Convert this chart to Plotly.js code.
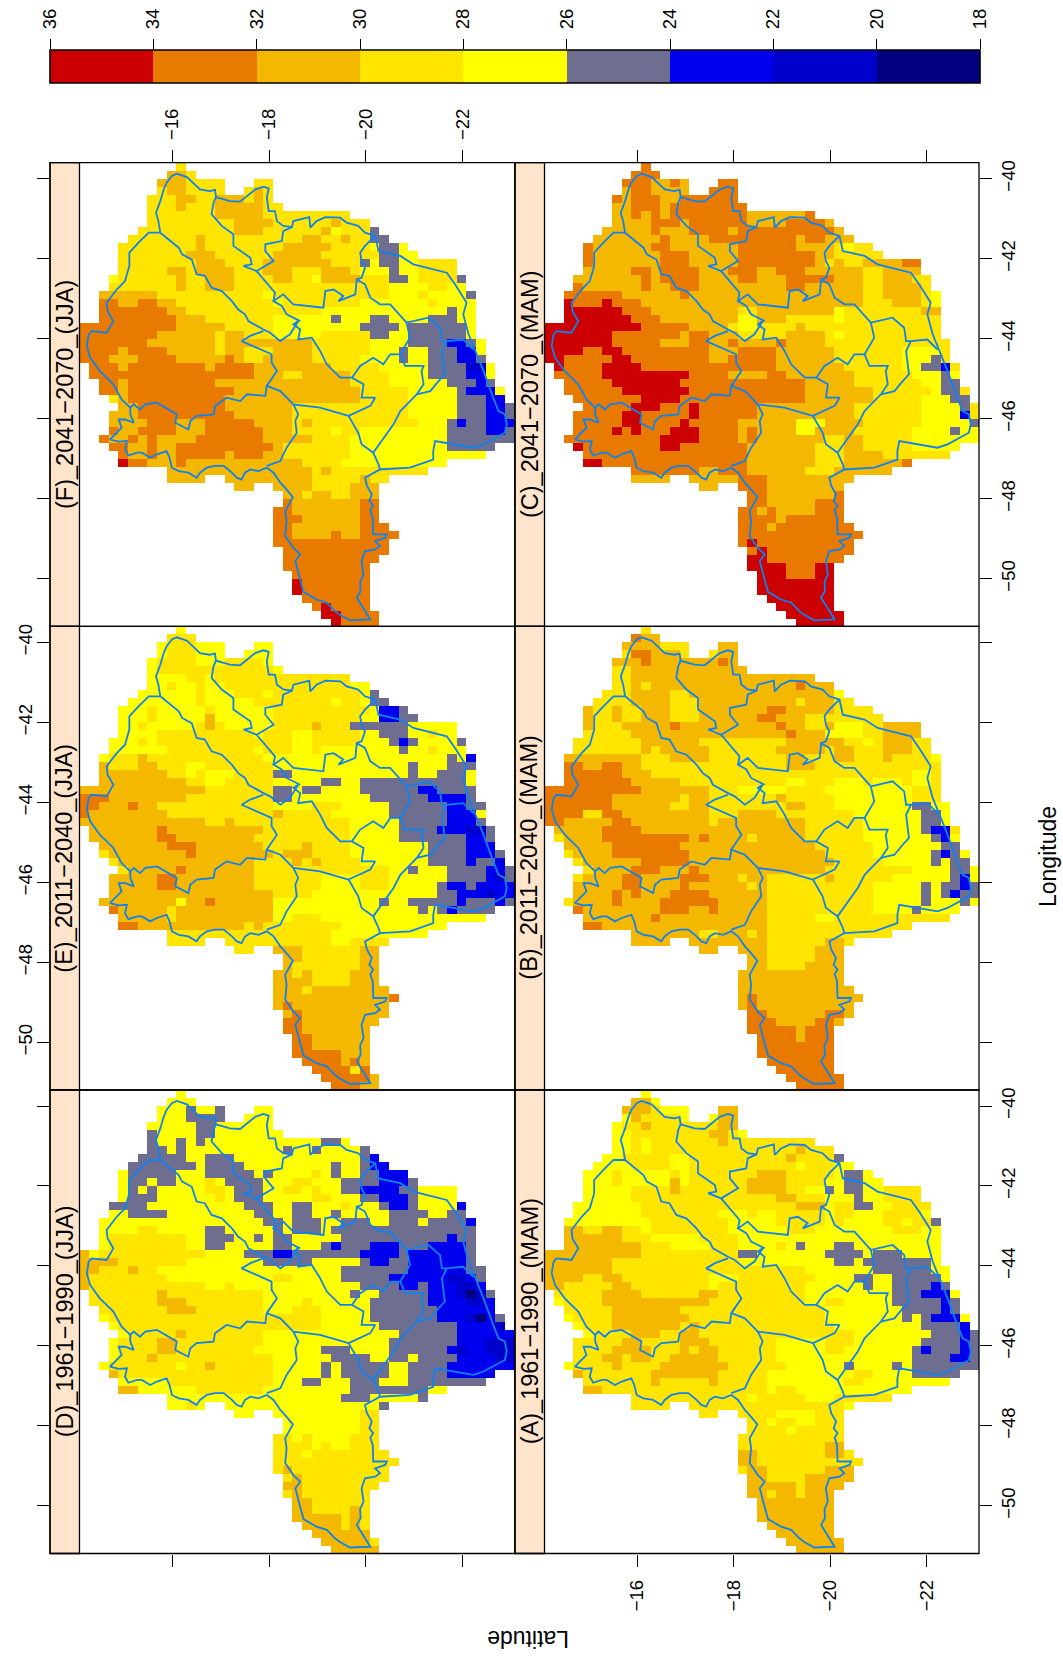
<!DOCTYPE html>
<html><head><meta charset="utf-8"><script src="https://cdn.plot.ly/plotly-3.0.1.min.js"></script>
<style>html,body{margin:0;padding:0;background:#fff}#c{width:1063px;height:1657px}</style></head><body><div id="c"></div>
<script>
const panelD=["10:Y1","9:Y3","8:Y3S1Y2S1.3Y2","8:Y3S4.2Y3","7:Y5S2Y6","7:S1Y4S2Y7","7:S1Y2S1Y1S1Y12S2Y1","7:S2Y1S1Y10S1Y2S1Y4S1","6:S5Y2S3Y13S1B1","5:S7Y1S4Y9S1Y2S1B2","4:Y1S5Y3S5Y1S1Y4G1Y1S1Y2S2B3","4:Y1S2Y1S2Y3G1Y1S4Y3G2Y3S4B3S1","4:Y1S1Y1S1Y5G2Y1S3Y2G2Y1G1Y2S2B4S2Y4","4:Y1S3Y6G1Y1S3Y5G2Y3S2B3S1Y4","3:S4Y10S3Y2S2Y3G1Y3S1B2S1Y4B1","3:Y2S4Y9S2Y2S2Y2S1Y5S4Y2S2","2:Y17S2Y1S3Y2S3Y2S3Y1S4B1","2:Y4G2Y5S2Y5S1Y1S3Y1S15","2:Y1G8Y2S3Y2S1Y1S2Y5S11B1S2","2:Y1G8Y2S2Y5S2Y3S1B1S3B3S3B4S1","0:A1Y1G11Y4S3B2S7B4S1B6S1","0:A4G7Y8S5Y5S1B2S2B6S1","0:A2G3A1G2Y19S7B6S2","0:A1G8Y11G2Y5S5B6D2B1S1","0:A1G12Y2G1Y13S4B2S1B3D2B1","1:G7A1G10Y9S1Y2S5B3D1N1D1S1","1:G7A3G8Y4G1Y6S6B4D2B1","2:G7A3G7Y3G3Y5S7B6","2:Y1G22Y5S7B3D1N1B1S1","3:Y1G21Y6S8B4D1","4:Y1G5A1G8Y14S6B6","3:Y1G4A2G9Y13S7B3D3","3:Y1G4A2G8Y7S3Y4S6B1D1B2D3","3:Y1G3A1G12Y6S4Y2S2Y1S4B4D3","2:Y1G7Y1G2A1G6Y5S1Y1S5Y2S4B7","3:A1G16Y5S1Y1S5Y2S4B5","4:Y5G11Y3S2Y3S3Y3S8","4:A2Y6G7Y9S8Y2","9:Y18S3Y5S1","9:Y2G1Y1.2Y16S1","16:Y2.2Y9G2","21:Y8G2","21:Y8G2","20:G2Y1G1Y4G3","20:G4Y1G1Y2G3","20:G3Y1G8","20:G13","20:G1A1G10","21:G1A1G9","21:A2G8","21:G1A1G7","22:A2G6","22:A2G4A1G1","22:A5G1A1G1","23:A4G1A1G1","24:A6","25:A5G1","26:A5"];
const panelA=["10:Y1","9:A2Y1","8:A3G1Y3.3A2","8:Y1A1G4Y1.2Y1A2","7:Y1G2A1G7A2","7:Y2G8A2G1Y1","7:Y2G1Y1G7A1G9","7:Y2G1Y1G15A1G3","6:Y2G5Y2G10A1G4S1","5:Y4G4Y2G11Y1G3Y2","4:Y3G1Y5G1Y1G7A3G5Y1S2Y1","4:Y3G1Y5A1Y1G6A4G4Y2S2Y2","4:Y5G4A1G7A4G2Y2S1Y1S2Y2G4","4:Y5G15A2G3Y3S1Y2G4","3:Y7G16A3Y1G2S2Y2G4","3:Y7G8Y3G1Y2G5Y1G2Y3G4Y1","2:Y9G8Y5G5Y1G1Y4G2Y1G2S1","2:A2G2A2G2Y1G8Y6G3Y8G3Y2","2:A6G3Y5G4Y21","2:A8G3Y4G3Y4G1Y1S1Y3S2Y9","0:A10G10S2Y7S4Y1S3Y4","0:A7G13Y10S2Y1S7Y1","0:A7G20Y7S6Y2","0:A4G2A2G9Y3G8Y4S2Y2S5Y1","0:A2G5A2G8Y1G9Y6S1Y2S4B1S1","1:G5A4G6A2G9Y9S3B3Y1","1:Y1G4A11G10Y2G2Y5S5B1S1","2:G5A7G15Y8S4B1S1","2:Y1G4A8G14Y8S1Y1S1B3Y1","3:Y1G3A7G1A1G14Y9S4B1","4:Y1G4A3G2A2G16Y8S3B1S1","3:G5A2G4A3G7Y5G3Y7S4B1S1","3:G4A4G3A1G1A2G6Y5G2Y7S1B1S3B1S1","3:G3A2G1A2G2A5G6Y14S4B2S1","2:Y1G4A1G4A7G6Y6S1Y4S1Y1S7","3:A1G7A7G5Y9G2Y4S5","4:G7A1G5A1G5Y8G2Y9","4:A2G17Y1G2Y12","9:G12Y1G5Y3G6","9:G4.2G16Y1","16:G2.2G4Y4G3","21:G2Y1G2Y2G3","21:G4Y1G5","20:G11","20:G9A2","20:A2G7A2G1","20:A2G11","20:G1A2G6A3","21:A2G4A5","21:A5G1A4","21:A2G1A2G1A3","22:A8","22:A8","22:A8","23:A7","24:A6","25:A6","26:A5"];
const panelE=["10:Y1","9:G3","8:Y1G3Y3.3Y2","8:Y1G3Y3.2Y3","7:Y1G4Y3G4Y1","7:Y1G12Y1","7:Y4G2Y1G14","7:Y2G1Y2G1Y2G13Y2","6:Y6G1Y3G3Y1G9Y1S1","5:Y7G1Y5G8Y1G2Y1S2","4:Y3G1Y5G1Y6G10Y1B2S1","4:Y3G1Y5A1Y6G9Y2B2S2","4:Y2G1Y5G1A1G1Y5G4A1G3S6Y5","4:Y4G10Y1G3Y2G5Y2S3Y2G1Y2","3:Y3G1Y1G14Y2G5Y3S1B1S1Y4S1","3:Y6G9Y1G3Y2G1Y8S1Y2G1Y3","2:Y1G3A1G12Y19S1Y1B1","2:A1G3A2G3Y2G7Y14S1Y3S3","2:A7G2Y1G1Y3G4S2Y12S1Y2S3Y1","2:A9G2Y2G5Y5S2Y2S11Y1","0:A13G7S2Y1S2Y4S6B2S4","0:O3A8G9S2Y8S6B4S1","0:O2A3O1A2G12Y4G3Y5S6B2S2","0:O1A8G11A1G5Y6S6B3Y1","0:A13G2A1G12Y5S5B3S1","1:A7O1A10G9Y5S4B3D2S1","1:A7O2A8G10Y5S7B2S1","2:A7O3A7G4A1G4Y8S4B3","2:G1A8O1A8G1A3G4Y8S4B3S1","3:G1A14G4A1G1A1G4Y7S4B1S2B1","4:G1A5O1A7G14Y2S1Y3S4B2S1","3:A5O2A8G7Y4G3Y6S4B1D1S1","3:A5O2A8G7Y4G3Y5S1B2S1B4","3:A17G4Y13S2B3D1B2","2:A8Y1A2O1A6Y11S1Y2S5B1S3B1S1","3:O1A5G1A10Y15S1Y1S1B1S4","4:A5G1A10Y2G3Y17","4:O2A11G1A1G8Y11","9:G17Y10","9:G4.2G11Y2G4","16:G2.2A3G6A2","21:A2G6A2","21:A1G7A2","20:A2G1A1G4A3","20:A4G4A3","20:A3G1A8","20:A12O1","20:A1O1A10","21:A1O1A9","21:O2A8","21:O2A7","22:O2A6","22:O2A6","22:O5A3","23:O4A1O1A1","24:O4G1O1","25:O5A1","26:O3A2"];
const panelB=["10:G1","9:O1A2","8:A4G3.3A2","8:G1O2A3G1.2G1A2","7:A3O1A7O1A1","7:G2A12","7:G2A19","7:G2A1G1A15O1A3","6:G3A4G2A15Y1","5:G4A4G3A10G1A3G2","4:A1G2A1G2A3G3A7O2A5G4","4:A1G2A1G2A3G3A6O2A3G8","4:A1G3A5O1A10O1A2G2A1Y3G2A4","4:G5A16O1A3Y4G2A4","3:G7A6G9A6G2Y1G1A3G2","3:G7A1G1A5G7A5G1A2G3A3G2","2:A8G3A4G8A2G3A2G3A1G4Y1","2:O2A2O2A2G15A3G13","2:O6A3G27Y2G1","2:O7A5G11Y2G3Y3G1Y3G1Y2G1","0:O10A7G3Y5G4Y9G3","0:O7A7G1A2G7A1G5Y8G3","0:O7A6G2A2G8A2G3Y8S2Y2","0:O4G2O2A9G3A4G8Y7S2Y1","0:O2A5O2A8G1A9G6Y6S2Y1","1:A5O4A17G6Y6S1B2G1","1:G1A4O9A1O1A4G1A5G6Y7S1B1Y1","2:A5O7A14G6Y7S2","2:G1A4O8A14G5Y6S1B1S1Y1","3:G1A6O5A15G5Y5S1Y1S2","4:G1A4O3A3O1A13G9Y4S2Y1","3:G1A4O2A4O3A3G1A2G6A1G6Y6S1B1Y1","3:A5O2A4O1A6G1A1G11Y5S1Y1S2B1S1","3:A4O1A1O1A3O4A6G11Y5S1Y1S1B1S2","2:G1A4O1A4O6A5G11Y5S1Y3S1Y1","3:O1A8O3A2O1A5G11Y4S1Y4","4:A7O1A11G5Y2G12","4:O2A17G15","9:A7G2A3G1A1G13","9:A4.2A8G6A2G1","16:A2.2A3G5A3","21:A2G5A3","21:A2G4A4","20:A11","20:A11","20:A12","20:A1O1A11","20:A1O1A10","21:O2A6O2A1","21:O3A4O2A1","21:O5A1O3","22:O4A1O3","22:O8","22:O8","23:O7","24:O6","25:O6","26:O5"];
const panelF=["10:G1","9:A2G1","8:A3G4.3G2","8:G1A2G4.2G1A1G1","7:G3A2G2A3G1A1G1","7:G3A1G3A5G2","7:G7A5G9","7:G9A4G6A1G3","6:G10A3G6A1Y1G3S1","5:G7A1G10A2G2A1G2S2","4:G8A1G8A5G4Y1S2Y1","4:G7A3G6A5G6S2Y2","4:G8A3G4A7G3S1Y1S2Y2G4","4:G5A2G1A4G3A3G3A3G1Y3S1Y2G4","3:Y1G6A1G2A3G4A2G2Y1A4G3S2Y1G4S1","3:G7A1G2A3G16Y4G2Y2","2:A6G11Y1G12Y3G1Y4S1","2:O2A2O2A2G10Y1G8Y7G1Y4","2:O7A2G14Y13S1Y2","2:O8A3G7Y6S1Y3S2Y4S3Y2","0:O10A5G5Y9S4Y1S6Y1","0:O8A6G1A2G3Y5G5S2Y2S6Y1","0:O7A7G1A9G6Y4S4B2S1Y1","0:O4A1O4A5G1A2G3A4G6Y3S1Y2S3B2Y1","0:O3A3O4A5O1A1G2A5G5Y4S1Y2S3B2S1","1:O3A1O8A1O4A8G5Y5S4D2Y1","1:O17A3G2A5G4Y4S4B2Y1","2:O2A1O9A14G4Y6S3B1S1","2:O2A1O11A13G5Y5S1B3Y1","3:G1A1O10A14G5Y5S3B2","4:A2O9A7G12Y5S3B2S1","3:A3O10A6G12Y5S3B2S1","3:A4O3A3O5A4G1A1G11Y3S1B1S2B3","3:O1A2O4A3O6A3G4Y1G2Y9S4B2S1","2:O1A2O1A1O1A4O7A5G4Y10S7","3:O2A2O1A2O10A1G7Y10S5","4:O1A2O1A2O5A1O3A2G7Y14","4:R1O2A3O1A12G4Y11","9:A15G1A1G10","9:A4.2A9G5A1G2","16:A2.2A4G4A3","21:A2G1A2G2A3","21:O1A7O2","20:O2A7O2","20:O3A6O2","20:O2A7O3","20:O2A4O1A2O4","20:O12","21:O11","21:O10","21:O9","22:O8","22:R1O7","22:R1O7","23:O7","24:O1R1O4","25:R2O4","26:R1O4"];
const panelC=["10:O1","9:O3","8:O3A2O1A1.3O2","8:A1O2A4.2O3","7:O1A1O3A2O6","7:A2O3A1O8","7:A2O1A1O1A1O8A6O1","7:A4O3A1O6A4O4A1","6:A5O1A3O4A1O10A1","5:A7O1A4O9A1O2A3","4:O1A6O2A7O6A4G1Y1G2","4:O1A7O3A5O8A2G5","4:O1A7O3A5O8A1G1A1G2A4O2","4:A5O2A1O4A3O3A2O3A6G2A4","3:A7O1A1O4A4O2A3O5A3G2A3G2","3:O1A6O1A2O3A9O2A6G2A4G1","2:O6A6O1A18G2A4G1Y1","2:R1O3R1O3A23G3A3G1Y1","2:R6O3A9G2A8Y1G8A2","2:R7O3A8Y2A3G5Y1G10","0:R10O5A4G1Y2G4A1G14","0:R7O7A1O2A3G5A4G1Y1G10","0:R7O5A3O2A2O1A4O1A4G13","0:R4O2R2O9A3O4A6G7Y4G1","0:R2O5R2O8A2O5A6G7Y3S1G1","1:R1O4R4O14A7G6Y2S2B1G1","1:O5R9O4A4O2A7G6Y3S1Y1","2:O5R7O13A5G7Y2S2","2:O6R7O12A7G6Y1S2G1","3:O7R4O13A7G5Y3S2","4:O5R3O3R1O6A10G7Y4S1G1","3:O5R2O5R1O6A10G7Y4B1G1","3:O5R2O4R1O5A6Y3A4G6Y5S1G1","3:O4R1O1R1O3R3O4A1O1A4Y2A4G6Y4S1Y2","2:O10R4O4A1O1A7G2A2G5Y7","3:R1O8R2O7A7G3A2G5Y5","4:O17A7G3A4G7","4:R2O15A7G3A6O1","9:O7A2O3A6G3A6","9:A4.2A5O3A9","16:A2.2O3A8","21:O2A7O1","21:O2A5O3","20:O2A1O1A4O3","20:O4A1O6","20:O3A1O8","20:O13","20:O1R1O10","21:O1R1O9","21:R2O8","21:R4O3R2","22:R3O3R2","22:R8","22:R8","23:R7","24:R6","25:R6","26:R5"];

const valueOf={R:35,O:33,A:31,G:29,Y:27,S:25,B:23,D:21,N:19};
const legendTicks=[36,34,32,30,28,26,24,22,20,18];
const legendValues=[35,33,31,29,27,25,23,21,19];
const legendColors=["#CC0000","#E87A00","#F5B800","#FFE500","#FFFF00","#6E6E91","#0000EE","#0000CD","#000080"];
const latTicks=[-16,-18,-20,-22];
const lonTicks=[-40,-42,-44,-46,-48,-50];
const lats=Array.from({length:45},(_,i)=>-14.18-0.2*i);
const lons=Array.from({length:58},(_,i)=>-39.7-0.2*i);

// basin outlines, as [lat, lon] pairs in degrees south / west
const outer=[15.75,41.35,15.71,41.06,15.66,40.85,15.75,40.56,15.82,40.27,15.88,40.10,15.99,39.93,16.09,39.875,16.30,39.96,16.44,40.125,16.57,40.27,16.77,40.31,16.88,40.28,16.90,40.46,17.19,40.56,17.40,40.575,17.54,40.43,17.71,40.27,17.88,40.2,17.99,40.24,17.95,40.475,17.99,40.81,18.12,40.81,18.16,41.06,18.29,41.18,18.47,41.21,18.50,41.06,18.67,41.0,18.83,40.96,18.85,41.225,18.98,41.06,19.16,40.96,19.47,40.975,19.60,41.1,19.84,41.18,19.98,41.35,20.19,41.43,20.26,41.81,20.71,41.93,20.98,42.14,21.67,42.35,21.84,42.64,22.08,43.1,22.01,43.39,22.12,43.89,22.25,44.27,22.43,44.81,22.63,45.475,22.74,45.81,22.87,45.89,22.91,46.14,22.87,46.35,22.43,46.64,22.22,46.725,21.67,46.6,21.43,46.56,21.39,46.81,21.39,47.02,20.91,47.225,20.29,47.27,19.98,47.475,20.02,47.68,20.12,47.89,20.07,48.06,20.15,48.18,20.09,48.29,20.14,48.475,20.15,48.89,20.43,48.89,20.40,48.975,20.19,49.06,20.29,49.18,20.19,49.27,19.98,49.31,19.91,49.56,19.95,49.89,19.88,50.08,19.89,50.31,19.81,50.475,19.98,50.81,20.09,51.02,19.67,51.04,19.47,50.91,19.36,50.81,19.19,50.6,18.98,50.52,18.71,50.33,18.63,49.975,18.54,49.56,18.64,49.39,18.50,49.23,18.33,48.93,18.36,48.56,18.33,48.31,18.49,47.96,18.33,47.73,18.23,47.6,18.09,47.35,17.95,47.225,17.78,47.31,17.61,47.27,17.50,47.35,17.43,47.52,17.33,47.475,17.23,47.35,17.06,47.18,16.88,47.18,16.71,47.225,16.57,47.35,16.50,47.475,16.33,47.35,16.13,47.31,15.99,47.225,15.94,46.975,15.88,46.81,15.68,46.89,15.54,46.975,15.37,46.85,15.27,46.85,15.09,46.92,15.02,46.77,15.06,46.56,14.89,46.575,14.71,46.52,14.85,46.35,14.95,46.225,14.89,46.02,15.02,46.02,15.20,46.1,15.13,45.89,15.13,45.725,14.95,45.52,14.78,45.14,14.50,44.81,14.30,44.475,14.23,44.18,14.27,43.89,14.33,43.81,14.64,43.85,14.78,43.56,14.66,43.31,14.64,43.1,14.85,42.77,15.02,42.56,15.11,42.18,15.11,41.85,15.30,41.6,15.51,41.35,15.75,41.35];
const ridgeA=[15.75,41.35,15.95,41.56,16.13,41.725,16.20,41.89,16.40,42.02,16.50,42.39,16.67,42.43,16.81,42.725,17.02,42.81,17.23,43.06,17.36,43.27,17.50,43.39,17.57,43.56,17.88,43.77,18.02,43.85,18.23,44.06,18.33,43.975,18.43,43.89,18.60,43.56,18.50,43.64,18.64,43.77,18.60,44.02,18.88,43.975,19.05,44.3,19.19,44.64,19.47,44.975,19.71,44.975,19.95,45.14,19.91,45.475,20.19,45.475,20.09,45.68,19.64,45.93];
const ridgeB=[17.88,43.81,17.61,43.93,17.43,44.06,17.67,44.18,18.05,44.39,18.05,44.6,18.16,44.81,17.95,45.18,18.23,45.31,18.50,45.64,19.05,45.725,19.64,45.93];
const ridgeC=[17.95,45.18,17.92,45.43,17.54,45.39,17.40,45.56,17.12,45.475,16.88,45.68,16.85,45.89,16.50,45.93,16.37,46.06,16.33,46.27,16.06,46.1,16.09,45.89,15.68,45.6,15.44,45.64,15.33,45.77,15.20,45.64,15.13,45.725];
const ridgeD=[18.50,45.64,18.60,45.89,18.54,46.06,18.57,46.35,18.36,46.725,18.23,47.06,17.95,47.18];
const ridgeE=[19.64,45.93,19.84,46.35,19.91,46.64,20.15,46.85,20.26,47.14,20.29,47.27];
const ridgeF=[20.15,46.85,20.57,46.14,20.71,45.81,21.05,45.39,21.19,45.14,21.15,44.81,21.19,44.68,20.81,44.68,20.71,44.39,20.50,44.39,20.36,44.64,20.15,44.475,19.88,44.68,19.71,44.975];
const ridgeG=[21.05,45.39,21.33,45.31,21.50,45.06,21.63,44.89,21.57,44.31,21.67,44.06,22.01,44.02,22.22,44.27];
const ridgeH=[20.71,44.39,20.91,43.975,20.84,43.6,21.29,43.475,21.53,43.725,21.57,44.06,21.67,44.06];
const ridgeI=[20.84,43.6,20.50,43.14,20.29,43.14,20.09,42.975,19.98,42.64,19.81,42.52,19.78,42.89,19.43,43.06,19.53,42.93,19.33,42.77,19.16,42.81,19.12,43.225,18.50,43.14,18.29,42.89,18.09,43.06,18.26,43.18,18.36,43.39,18.64,43.56];
const ridgeJ=[16.90,40.46,16.85,40.6,16.81,40.89,17.02,41.18,17.26,41.39,17.26,41.68,17.61,41.975,17.64,42.14,17.47,42.18,17.74,42.31,18.09,42.06,17.92,41.81,17.92,41.64,18.26,41.56,18.29,41.31,18.47,41.21];
const ridgeK=[17.74,42.31,17.95,42.6,18.12,42.85,18.09,43.06];
const ridgeL=[20.19,41.43,19.98,41.68,19.88,41.85,19.91,42.06,19.98,42.225,19.91,42.475,19.81,42.52];
const boundaries=[outer,ridgeA,ridgeB,ridgeC,ridgeD,ridgeE,ridgeF,ridgeG,ridgeH,ridgeI,ridgeJ,ridgeK,ridgeL];

const W=1063,H=1657;
const colX=[[50,515],[515,979]], rowY=[[162.7,626.3],[626.3,1090],[1090,1553.5]];
const panels=[
 {label:"(F)_2041−2070_(JJA)",rows:panelF,r:0,c:0},
 {label:"(C)_2041−2070_(MAM)",rows:panelC,r:0,c:1},
 {label:"(E)_2011−2040_(JJA)",rows:panelE,r:1,c:0},
 {label:"(B)_2011−2040_(MAM)",rows:panelB,r:1,c:1},
 {label:"(D)_1961−1990_(JJA)",rows:panelD,r:2,c:0},
 {label:"(A)_1961−1990_(MAM)",rows:panelA,r:2,c:1}];

function decode(rows){
  return rows.map(row=>{
    const parts=row.split(":"); const cells=new Array(lats.length).fill(null); let col=+parts[0];
    for(const m of parts[1].matchAll(/([A-Z.])(\d+)/g)){
      for(let k=0;k<+m[2];k++){ if(m[1]!=="."&&col<cells.length) cells[col]=valueOf[m[1]]; col++; }
    }
    return cells;
  });
}
const cs=[];
for(let i=legendValues.length-1;i>=0;i--){
  const lo=(legendValues[i]-1-18)/18, hi=(legendValues[i]+1-18)/18;
  cs.push([lo,legendColors[i]]); cs.push([hi,legendColors[i]]);
}
const px=v=>v/W, py=v=>1-v/H;
const font="Liberation Sans, Arial, sans-serif";
const tickFont={family:font,size:18.5,color:"#000"};
const bLat=[],bLon=[];
boundaries.forEach(l=>{for(let i=0;i<l.length;i+=2){bLat.push(-l[i]);bLon.push(-l[i+1]);} bLat.push(null);bLon.push(null);});

const traces=[],shapes=[],annotations=[];
const layout={width:W,height:H,margin:{l:0,r:0,t:0,b:0},paper_bgcolor:"#fff",plot_bgcolor:"#fff",showlegend:false,font:{family:font,color:"#000"}};
panels.forEach((p,i)=>{
  const n=i+1, xk="xaxis"+(n===1?"":n), yk="yaxis"+(n===1?"":n), xa="x"+(n===1?"":n), ya="y"+(n===1?"":n);
  const left=colX[p.c][0], right=colX[p.c][1], top=rowY[p.r][0], bot=rowY[p.r][1];
  const outerRow=p.r!==1;
  layout[xk]={domain:[px(left),px(right)],range:[-13.47,-23.08],anchor:ya,side:p.r===0?"top":"bottom",
    tickvals:latTicks,ticks:outerRow?"outside":"",ticklen:12,tickwidth:1,tickcolor:"#000",
    showticklabels:(p.r===0&&p.c===0)||(p.r===2&&p.c===1),tickangle:-90,tickfont:tickFont,ticklabelstandoff:6,
    showgrid:false,zeroline:false,showline:false};
  const labelY=(p.c===0&&p.r===1)||(p.c===1&&p.r!==1);
  layout[yk]={domain:[py(bot),py(top)],range:[-51.19,-39.6],anchor:xa,side:p.c===0?"left":"right",
    tickvals:lonTicks,ticks:"outside",ticklen:12,tickwidth:1,tickcolor:"#000",
    showticklabels:labelY,tickangle:-90,tickfont:tickFont,ticklabelstandoff:p.c===0?-2:1,
    showgrid:false,zeroline:false,showline:false};
  traces.push({type:"heatmap",x:lats,y:lons,z:decode(p.rows),xaxis:xa,yaxis:ya,zmin:18,zmax:36,colorscale:cs,showscale:false,hoverinfo:"skip",xgap:0,ygap:0,zsmooth:false});
  traces.push({type:"scatter",mode:"lines",x:bLat,y:bLon,xaxis:xa,yaxis:ya,line:{color:"#0F82F0",width:1.8},connectgaps:false,hoverinfo:"skip"});
  shapes.push({type:"rect",xref:"paper",yref:"paper",x0:px(left),x1:px(left+29.5),y0:py(bot),y1:py(top),fillcolor:"#FFE4CC",line:{color:"#000",width:1.3},layer:"above"});
  shapes.push({type:"rect",xref:"paper",yref:"paper",x0:px(left),x1:px(right),y0:py(bot),y1:py(top),fillcolor:"rgba(0,0,0,0)",line:{color:"#000",width:1.3},layer:"above"});
  annotations.push({xref:"paper",yref:"paper",x:px(left+14.5),y:py((top+bot)/2),text:p.label,textangle:-90,showarrow:false,xanchor:"center",yanchor:"middle",font:{family:font,size:23.5,color:"#000"}});
});
layout.xaxis7={domain:[px(50),px(980)],range:[36,18],anchor:"y7",side:"top",tickvals:legendTicks,ticks:"outside",ticklen:10,tickwidth:1,tickcolor:"#000",tickangle:-90,tickfont:tickFont,ticklabelstandoff:6,showgrid:false,zeroline:false,showline:false};
layout.yaxis7={domain:[py(83),py(50)],range:[0,1],anchor:"x7",showticklabels:false,ticks:"",showgrid:false,zeroline:false,showline:false};
traces.push({type:"heatmap",x:legendValues,y:[0.5],z:[legendValues],xaxis:"x7",yaxis:"y7",zmin:18,zmax:36,colorscale:cs,showscale:false,hoverinfo:"skip",zsmooth:false,ygap:0,dy:1});
shapes.push({type:"rect",xref:"paper",yref:"paper",x0:px(50),x1:px(980),y0:py(83),y1:py(50),fillcolor:"rgba(0,0,0,0)",line:{color:"#000",width:1.6},layer:"above"});
annotations.push({xref:"paper",yref:"paper",x:px(1048),y:py(857),text:"Longitude",textangle:-90,showarrow:false,xanchor:"center",yanchor:"middle",font:{family:font,size:23,color:"#000"}});
annotations.push({xref:"paper",yref:"paper",x:px(528),y:py(1639),text:"Latitude",textangle:180,showarrow:false,xanchor:"center",yanchor:"middle",font:{family:font,size:23,color:"#000"}});
layout.shapes=shapes; layout.annotations=annotations;
Plotly.newPlot("c",traces,layout,{displayModeBar:false,staticPlot:true});
</script></body></html>
